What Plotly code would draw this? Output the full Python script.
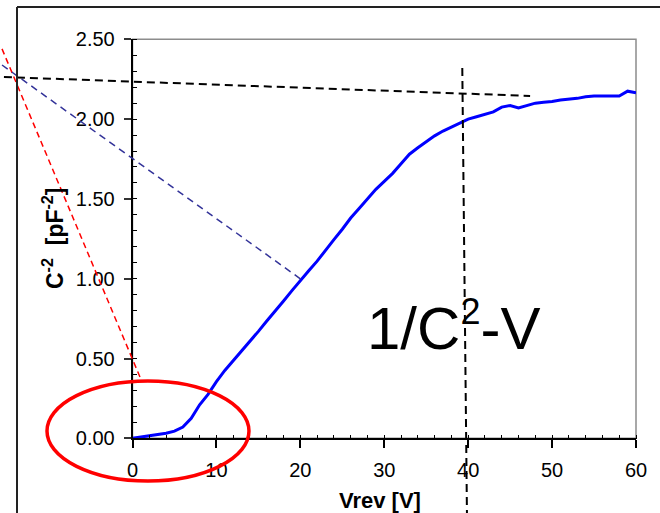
import plotly.graph_objects as go

W, H = 660, 513
FONT = "Arial, Liberation Sans, sans-serif"

# ---------------- data ----------------
v_rev = list(range(0, 61))
c_inv2 = [0.000, 0.008, 0.016, 0.024, 0.032, 0.045, 0.070, 0.125, 0.210, 0.275,
          0.355, 0.425, 0.485, 0.545, 0.610, 0.670, 0.735, 0.795, 0.860, 0.925,
          0.990, 1.050, 1.110, 1.180, 1.245, 1.310, 1.380, 1.440, 1.500, 1.560,
          1.610, 1.660, 1.720, 1.780, 1.820, 1.860, 1.895, 1.925, 1.950, 1.980,
          2.000, 2.015, 2.030, 2.045, 2.075, 2.085, 2.070, 2.085, 2.100, 2.105,
          2.110, 2.120, 2.125, 2.130, 2.140, 2.145, 2.145, 2.145, 2.145, 2.175,
          2.165]

x_ticks = [0, 10, 20, 30, 40, 50, 60]
y_ticks = [0.0, 0.5, 1.0, 1.5, 2.0, 2.5]
y_tick_labels = ["0.00", "0.50", "1.00", "1.50", "2.00", "2.50"]

# construction lines (V, pF^-2)
tangent_red_x = [-15.55, 0.89]
tangent_red_y = [2.44, 0.384]
tangent_blue_x = [-15.55, 20.2]
tangent_blue_y = [2.339, 0.992]
plateau_x = [-15.32, 47.38]
plateau_y = [2.264, 2.145]
vline_x = [39.3, 39.9]
vline_y = [2.32, -0.7]
ellipse_x = [-10.19, 13.88]
ellipse_y = [-0.268, 0.359]

# ---------------- geometry ----------------
plot_l, plot_r, plot_t, plot_b = 132.5, 636.0, 39.3, 438.3
x_range = [0, 60]
y_range = [0, 2.5]
xdom = [plot_l / W, plot_r / W]
ydom = [1 - plot_b / H, 1 - plot_t / H]
xs = (x_range[1] - x_range[0]) / (xdom[1] - xdom[0])
ys = (y_range[1] - y_range[0]) / (ydom[1] - ydom[0])
x2_range = [x_range[0] - xdom[0] * xs, x_range[1] + (1 - xdom[1]) * xs]
y2_range = [y_range[0] - ydom[0] * ys, y_range[1] + (1 - ydom[1]) * ys]

fig = go.Figure()

fig.add_trace(go.Scatter(x=v_rev, y=c_inv2, mode="lines",
                         line=dict(color="#0000FF", width=3),
                         xaxis="x", yaxis="y", showlegend=False, hoverinfo="skip"))

fig.add_trace(go.Scatter(x=tangent_red_x, y=tangent_red_y, mode="lines",
                         line=dict(color="#FF0000", width=1.5, dash="6px,4px"),
                         xaxis="x2", yaxis="y2", showlegend=False, hoverinfo="skip"))
fig.add_trace(go.Scatter(x=tangent_blue_x, y=tangent_blue_y, mode="lines",
                         line=dict(color="#333399", width=1.5, dash="7px,5px"),
                         xaxis="x2", yaxis="y2", showlegend=False, hoverinfo="skip"))
fig.add_trace(go.Scatter(x=plateau_x, y=plateau_y, mode="lines",
                         line=dict(color="#000000", width=2, dash="8px,5px"),
                         xaxis="x2", yaxis="y2", showlegend=False, hoverinfo="skip"))
fig.add_trace(go.Scatter(x=vline_x, y=vline_y, mode="lines",
                         line=dict(color="#000000", width=2, dash="8px,5px"),
                         xaxis="x2", yaxis="y2", showlegend=False, hoverinfo="skip"))

tickfont = dict(family=FONT, size=20, color="black")

fig.update_layout(
    width=W, height=H,
    autosize=False,
    margin=dict(l=0, r=0, t=0, b=0, pad=0, autoexpand=False),
    paper_bgcolor="white",
    plot_bgcolor="rgba(0,0,0,0)",
    showlegend=False,
    xaxis=dict(domain=xdom, range=x_range, anchor="y",
               showline=True, linecolor="black", linewidth=1.5,
               ticks="outside", ticklen=8, tickwidth=1.5, tickcolor="black",
               tickvals=x_ticks, tickfont=tickfont, ticklabelstandoff=5,
               minor=dict(ticks="inside", dtick=2, ticklen=4, tickwidth=1, tickcolor="black"),
               showgrid=False, zeroline=False, fixedrange=True, automargin=False),
    yaxis=dict(domain=ydom, range=y_range, anchor="x",
               showline=True, linecolor="black", linewidth=1.5,
               ticks="outside", ticklen=7, tickwidth=1.5, tickcolor="#333333",
               tickvals=y_ticks, ticktext=y_tick_labels, tickfont=tickfont,
               ticklabelstandoff=5,
               minor=dict(ticks="inside", dtick=0.1, ticklen=5, tickwidth=1, tickcolor="black"),
               showgrid=False, zeroline=False, fixedrange=True, automargin=False),
    xaxis3=dict(overlaying="x", anchor="y", range=x_range, tickvals=x_ticks,
                ticks="inside", ticklen=5, tickwidth=1.5, tickcolor="black",
                showticklabels=False, showline=False, showgrid=False, zeroline=False,
                automargin=False),
    xaxis2=dict(domain=[0, 1], range=x2_range, anchor="y2", visible=False, automargin=False),
    yaxis2=dict(domain=[0, 1], range=y2_range, anchor="x2", visible=False, automargin=False),
    shapes=[
        dict(type="rect", xref="x domain", yref="y domain", x0=0, x1=1, y0=0, y1=1,
             line=dict(color="#8c8c8c", width=1.5), layer="below"),
        dict(type="circle", xref="x2", yref="y2",
             x0=ellipse_x[0], x1=ellipse_x[1], y0=ellipse_y[0], y1=ellipse_y[1],
             line=dict(color="#FF0000", width=3.5), layer="below"),
        dict(type="line", xref="paper", yref="paper",
             x0=17 / W, x1=17 / W, y0=0, y1=1 - 7 / H,
             line=dict(color="#222222", width=2)),
        dict(type="line", xref="paper", yref="paper",
             x0=17 / W, x1=1, y0=1 - 7 / H, y1=1 - 7 / H,
             line=dict(color="#222222", width=2)),
    ],
    annotations=[
        dict(text="1/C<sup><span style='font-size:36px'>2</span></sup>-V",
             xref="x", yref="y", x=38.3, y=0.70, xanchor="center", yanchor="middle",
             showarrow=False, font=dict(family=FONT, size=60, color="black")),
        dict(text="<b>Vrev [V]</b>", xref="paper", yref="paper",
             x=380 / W, y=1 - 500 / H, xanchor="center", yanchor="middle",
             showarrow=False, font=dict(family=FONT, size=22, color="black")),
        dict(text="<b>C<sup>-2</sup>  [pF<sup>-2</sup>]</b>", xref="paper", yref="paper",
             x=52.5 / W, y=1 - 238.5 / H, xanchor="center", yanchor="middle",
             textangle=-90, showarrow=False,
             font=dict(family=FONT, size=23, color="black")),
    ],
)

fig.write_html("out.html", config={"displayModeBar": False},
               post_script="document.body.style.margin='0';document.body.style.overflow='hidden';")
